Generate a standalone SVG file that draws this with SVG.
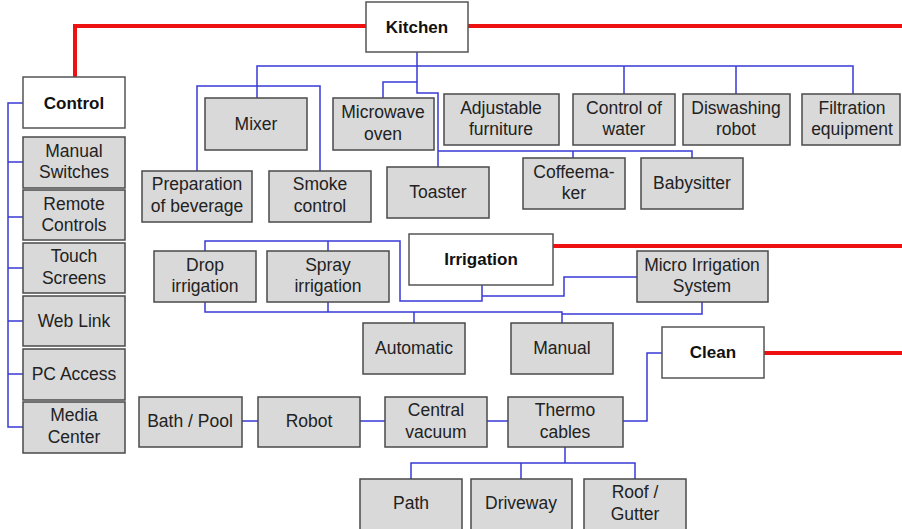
<svg xmlns="http://www.w3.org/2000/svg" width="902" height="529" viewBox="0 0 902 529">
<style>
.b{fill:#d9d9d9;stroke:#4a4a4a;stroke-width:1.5}
.w{fill:#ffffff;stroke:#555555;stroke-width:1.5}
text{font-family:"Liberation Sans",Arial,sans-serif;font-size:17.5px;fill:#222222;text-anchor:middle}
.t{font-weight:bold;font-size:17px;fill:#111111}
.bl{fill:none;stroke:#3a3ad6;stroke-width:1.5}
.rd{fill:none;stroke:#ee1111;stroke-width:4}
</style>
<rect width="902" height="529" fill="#ffffff"/>
<g id="connectors">
<path class="rd" d="M366,26 H75 V77 M468,26 H902 M553,246 H902 M764,353 H902"/>
<path class="bl" d="M23,103 H8 V427 H23 M8,162 H23 M8,217 H23 M8,268 H23 M8,321 H23 M8,374 H23"/>
<path class="bl" d="M417,52 V93 H438 V167 M257,98 V66 H853 V94 M624,66 V94 M736,66 V94 M417,82 H383 V98 M438,151 H692 V158 M573,151 V158"/>
<path class="bl" d="M197,171 V86 H320 V171"/>
<path class="bl" d="M205,251 V241 H400 V301 H482 V285 M328,241 V251 M482,296 H564 V277 H637 M205,302 V312 H562 V323 M328,302 V312 M414,312 V323 M702,302 V314 H562"/>
<path class="bl" d="M242,421 H258 M360,421 H385 M487,421 H508 M623,421 H647 V353 H662"/>
<path class="bl" d="M565,447 V463 M411,479 V463 H635 V479 M521,463 V479"/>
</g>
<g id="kitchen"><rect class="w" x="366" y="2" width="102" height="50"/><text class="t" x="417" y="33">Kitchen</text></g>
<g id="control"><rect class="w" x="23" y="77" width="102" height="51"/><text class="t" x="74" y="108.5">Control</text></g>
<g id="manual-switches"><rect class="b" x="23" y="137" width="102" height="51"/><text x="74" y="157">Manual</text><text x="74" y="178">Switches</text></g>
<g id="remote-controls"><rect class="b" x="23" y="190" width="102" height="50"/><text x="74" y="210">Remote</text><text x="74" y="231">Controls</text></g>
<g id="touch-screens"><rect class="b" x="23" y="243" width="102" height="50"/><text x="74" y="262">Touch</text><text x="74" y="284">Screens</text></g>
<g id="web-link"><rect class="b" x="23" y="296" width="102" height="50"/><text x="74" y="326.5">Web Link</text></g>
<g id="pc-access"><rect class="b" x="23" y="349" width="102" height="51"/><text x="74" y="380">PC Access</text></g>
<g id="media-center"><rect class="b" x="23" y="402" width="102" height="51"/><text x="74" y="421">Media</text><text x="74" y="443">Center</text></g>
<g id="mixer"><rect class="b" x="205" y="98" width="102" height="52"/><text x="256" y="130">Mixer</text></g>
<g id="microwave-oven"><rect class="b" x="333" y="98" width="101" height="52"/><text x="383" y="118">Microwave</text><text x="383" y="140">oven</text></g>
<g id="adjustable-furniture"><rect class="b" x="444" y="94" width="115" height="51"/><text x="501" y="114">Adjustable</text><text x="501" y="135">furniture</text></g>
<g id="control-of-water"><rect class="b" x="573" y="94" width="102" height="51"/><text x="624" y="114">Control of</text><text x="624" y="135">water</text></g>
<g id="diswashing-robot"><rect class="b" x="683" y="94" width="107" height="51"/><text x="736" y="114">Diswashing</text><text x="736" y="135">robot</text></g>
<g id="filtration-equipment"><rect class="b" x="802" y="94" width="98" height="51"/><text x="852" y="114">Filtration</text><text x="852" y="135">equipment</text></g>
<g id="preparation-of-beverage"><rect class="b" x="142" y="171" width="110" height="51"/><text x="197" y="190">Preparation</text><text x="197" y="212">of beverage</text></g>
<g id="smoke-control"><rect class="b" x="269" y="171" width="102" height="51"/><text x="320" y="190">Smoke</text><text x="320" y="212">control</text></g>
<g id="toaster"><rect class="b" x="387" y="167" width="102" height="51"/><text x="438" y="198">Toaster</text></g>
<g id="coffeemaker"><rect class="b" x="523" y="158" width="102" height="51"/><text x="574" y="178">Coffeema-</text><text x="574" y="199">ker</text></g>
<g id="babysitter"><rect class="b" x="641" y="158" width="102" height="51"/><text x="692" y="189">Babysitter</text></g>
<g id="irrigation"><rect class="w" x="409" y="234" width="144" height="51"/><text class="t" x="481" y="265">Irrigation</text></g>
<g id="drop-irrigation"><rect class="b" x="154" y="251" width="102" height="51"/><text x="205" y="271">Drop</text><text x="205" y="292">irrigation</text></g>
<g id="spray-irrigation"><rect class="b" x="267" y="251" width="122" height="51"/><text x="328" y="271">Spray</text><text x="328" y="292">irrigation</text></g>
<g id="micro-irrigation-system"><rect class="b" x="637" y="251" width="131" height="51"/><text x="702" y="271">Micro Irrigation</text><text x="702" y="292">System</text></g>
<g id="automatic"><rect class="b" x="363" y="323" width="102" height="51"/><text x="414" y="354">Automatic</text></g>
<g id="manual"><rect class="b" x="511" y="323" width="102" height="51"/><text x="562" y="354">Manual</text></g>
<g id="clean"><rect class="w" x="662" y="327" width="102" height="51"/><text class="t" x="713" y="358">Clean</text></g>
<g id="bath-pool"><rect class="b" x="139" y="397" width="103" height="50"/><text x="190" y="427">Bath / Pool</text></g>
<g id="robot"><rect class="b" x="258" y="397" width="102" height="50"/><text x="309" y="427">Robot</text></g>
<g id="central-vacuum"><rect class="b" x="385" y="397" width="102" height="50"/><text x="436" y="416">Central</text><text x="436" y="438">vacuum</text></g>
<g id="thermo-cables"><rect class="b" x="508" y="397" width="115" height="50"/><text x="565" y="416">Thermo</text><text x="565" y="438">cables</text></g>
<g id="path"><rect class="b" x="360" y="479" width="102" height="60"/><text x="411" y="509">Path</text></g>
<g id="driveway"><rect class="b" x="471" y="479" width="101" height="60"/><text x="521" y="509">Driveway</text></g>
<g id="roof-gutter"><rect class="b" x="584" y="479" width="102" height="60"/><text x="635" y="498">Roof /</text><text x="635" y="520">Gutter</text></g>
</svg>
